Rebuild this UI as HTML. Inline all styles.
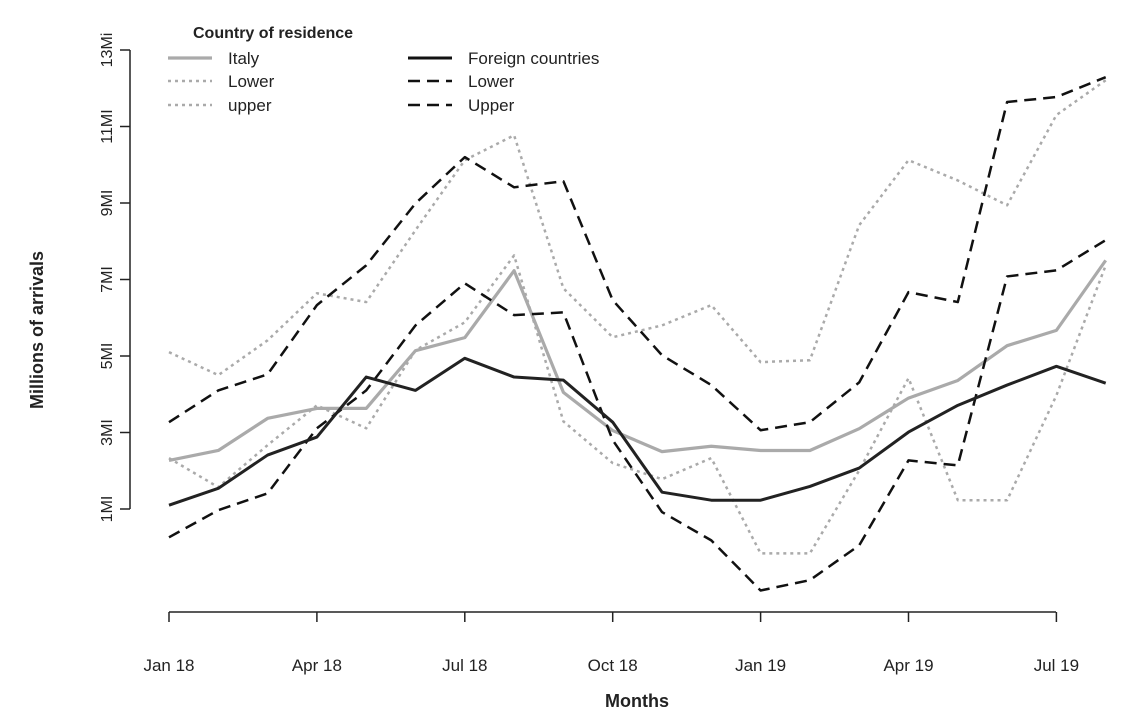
<!DOCTYPE html>
<html><head><meta charset="utf-8"><style>
body{margin:0;background:#fff}
svg{display:block;font-family:"Liberation Sans",Arial,sans-serif}
</style></head><body>
<svg id="chart" width="1136" height="727"></svg>
<script>
const months=["Jan 18","Feb 18","Mar 18","Apr 18","May 18","Jun 18","Jul 18","Aug 18","Sep 18","Oct 18","Nov 18","Dec 18","Jan 19","Feb 19","Mar 19","Apr 19","May 19","Jun 19","Jul 19","Aug 19"];
const xTickLabels=["Jan 18","Apr 18","Jul 18","Oct 18","Jan 19","Apr 19","Jul 19"];
const yTicks=[1,3,5,7,9,11,13];
const yTickLabels=["1MI","3MI","5MI","7MI","9MI","11MI","13Mi"];
const italy=[2.27,2.53,3.37,3.63,3.63,5.14,5.48,7.23,4.05,3.05,2.5,2.64,2.53,2.53,3.1,3.9,4.36,5.27,5.67,7.5];
const italyLower=[2.33,1.57,2.67,3.71,3.11,5.15,5.88,7.63,3.29,2.2,1.78,2.33,-0.16,-0.16,2.01,4.42,1.23,1.23,3.97,7.37];
const italyUpper=[5.1,4.5,5.41,6.64,6.41,8.29,10.12,10.77,6.77,5.49,5.8,6.33,4.84,4.89,8.42,10.12,9.59,8.94,11.3,12.21];
const foreign=[1.1,1.54,2.41,2.88,4.45,4.1,4.94,4.45,4.37,3.27,1.44,1.23,1.23,1.59,2.07,3.01,3.71,4.24,4.73,4.29];
const foreignLower=[0.26,0.97,1.41,3.11,4.1,5.8,6.9,6.07,6.14,2.8,0.92,0.18,-1.13,-0.86,0.05,2.27,2.14,7.08,7.24,8.03];
const foreignUpper=[3.27,4.1,4.52,6.33,7.37,8.99,10.2,9.41,9.57,6.46,5.02,4.24,3.06,3.27,4.31,6.67,6.41,11.64,11.77,12.29];

const svg=document.getElementById('chart');
const NS='http://www.w3.org/2000/svg';
const x=i=>169+i*49.3;
const y=v=>547.25-v*38.25;
function mk(tag,attrs,parent){const e=document.createElementNS(NS,tag);for(const k in attrs)e.setAttribute(k,attrs[k]);(parent||svg).appendChild(e);return e;}
function txt(s,attrs){const e=mk('text',attrs);e.textContent=s;return e;}

// axes
let e=mk('line',{x1:169,y1:612,x2:1056,y2:612,stroke:'#222','stroke-width':1.5});


xTickLabels.forEach(lb=>{const i=months.indexOf(lb);
 let t=mk('line',{x1:x(i),y1:612,x2:x(i),y2:622,stroke:'#222','stroke-width':1.5});
 
 
 let l=txt(lb,{x:x(i),y:671,'text-anchor':'middle','font-size':17,fill:'#222'});
 
 
});
e=mk('line',{x1:130,y1:y(1),x2:130,y2:y(13),stroke:'#222','stroke-width':1.5});


yTicks.forEach((v,k)=>{
 let t=mk('line',{x1:120,y1:y(v),x2:130,y2:y(v),stroke:'#222','stroke-width':1.5});
 
 
 let l=txt(yTickLabels[k],{x:0,y:0,'text-anchor':'middle','font-size':16,fill:'#222',transform:`translate(112,${y(v)}) rotate(-90)`});
 
 
});
e=txt('Months',{x:637,y:707,'text-anchor':'middle','font-size':18,'font-weight':'bold',fill:'#222'});


e=txt('Millions of arrivals',{x:0,y:0,'text-anchor':'middle','font-size':18,'font-weight':'bold',fill:'#222',transform:'translate(43,330) rotate(-90)'});



const series=[
 {d:italyLower,c:'#aaa',w:2.5,dash:'3,4',n:'italy-lower-line'},
 {d:italyUpper,c:'#aaa',w:2.5,dash:'3,4',n:'italy-upper-line'},
 {d:italy,c:'#aaa',w:3.2,dash:'',n:'italy-line'},
 {d:foreignLower,c:'#111',w:2.5,dash:'12,7',n:'foreign-lower-line'},
 {d:foreignUpper,c:'#111',w:2.5,dash:'12,7',n:'foreign-upper-line'},
 {d:foreign,c:'#222',w:3,dash:'',n:'foreign-line'}
];
series.forEach(s=>{
 const p=mk('polyline',{points:s.d.map((v,i)=>x(i)+','+y(v)).join(' '),fill:'none',stroke:s.c,'stroke-width':s.w,'stroke-dasharray':s.dash,'stroke-linejoin':'round'});
 
 
});

// legend
const lg=mk('g',{});


e=txt('Country of residence',{x:193,y:38,'font-size':16,'font-weight':'bold',fill:'#222'});lg.appendChild(e);


const items=[
 [168,58,'#aaa',3.2,'','Italy'],[168,81,'#aaa',2.5,'3,4','Lower'],[168,105,'#aaa',2.5,'3,4','upper'],
 [408,58,'#111',3,'','Foreign countries'],[408,81,'#111',2.5,'12,7','Lower'],[408,105,'#111',2.5,'12,7','Upper']];
items.forEach(it=>{
 const g=mk('g',{},lg);
 
 
 mk('line',{x1:it[0],y1:it[1],x2:it[0]+44,y2:it[1],stroke:it[2],'stroke-width':it[3],'stroke-dasharray':it[4]},g);
 const t=mk('text',{x:it[0]+60,y:it[1]+6,'font-size':17,fill:'#222'},g);t.textContent=it[5];
});
</script>
</body></html>
